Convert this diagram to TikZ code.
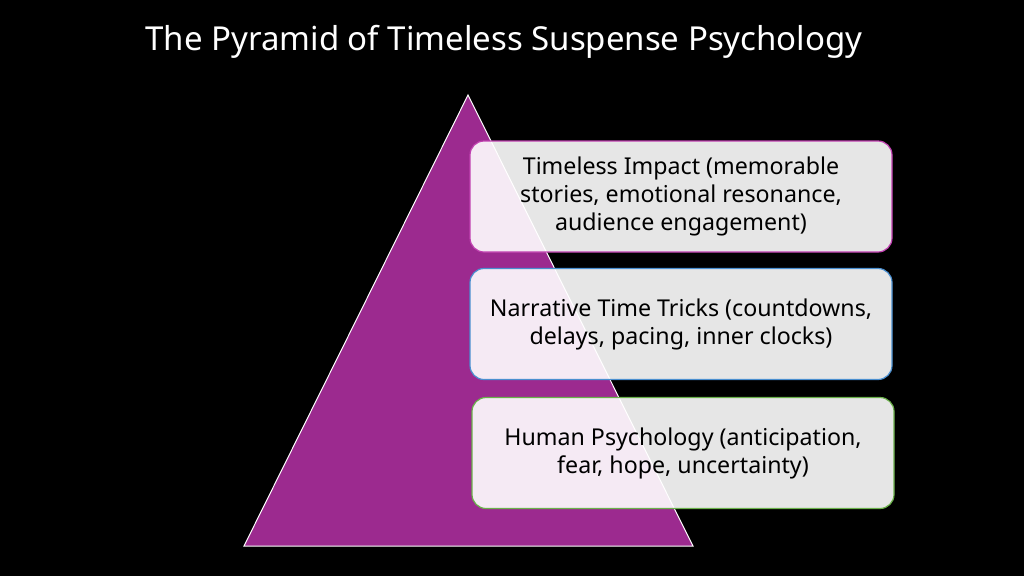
\documentclass[tikz,border=0pt]{standalone}
\usepackage{fontspec}
\setmainfont{Noto Sans}
\definecolor{tri}{HTML}{9C2A8F}
\definecolor{bmag}{HTML}{C040B0}
\definecolor{bblue}{HTML}{4A8FD0}
\definecolor{bgreen}{HTML}{6AB04A}
\begin{document}
\begin{tikzpicture}[x=1pt,y=-1pt,
  layerbox/.style={draw, line width=1.2pt, rounded corners=14pt, fill=white, fill opacity=0.9, text opacity=1,
    minimum width=422pt, minimum height=111pt, align=center, text=black,
    font=\fontsize{23.2}{28}\selectfont, inner sep=0pt}]
\fill[black] (0,0) rectangle (1024,576);
\useasboundingbox (0,0) rectangle (1024,576);
\node[text=white, font=\fontsize{33}{38}\selectfont] (title) at (504,42) {The Pyramid of Timeless Suspense Psychology};
\draw[white, line width=1pt, fill=tri] (468,95) -- (693,546) -- (244,546) -- cycle;
\coordinate (apex) at (468,95);
\node[layerbox, draw=bmag] (top) at (681,196.5) {Timeless Impact (memorable\\stories, emotional resonance,\\audience engagement)};
\node[layerbox, draw=bblue] (mid) at (681,324) {Narrative Time Tricks (countdowns,\\delays, pacing, inner clocks)};
\node[layerbox, draw=bgreen] (bot) at (683,453) {Human Psychology (anticipation,\\fear, hope, uncertainty)};
\end{tikzpicture}
\end{document}
